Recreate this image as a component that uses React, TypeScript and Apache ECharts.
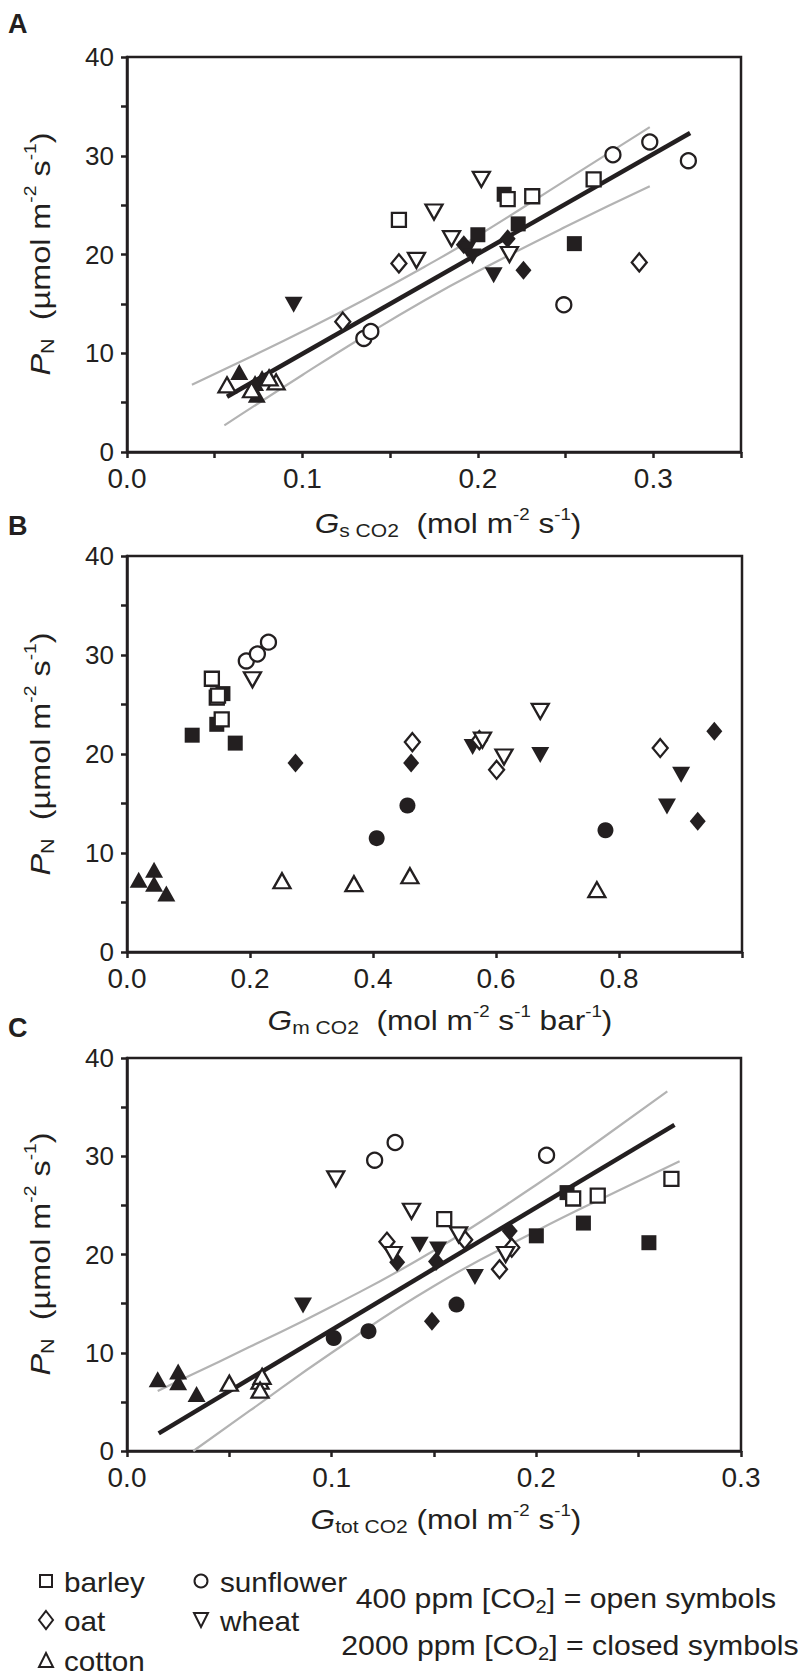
import { useEffect, useRef } from "react";
import * as echarts from "echarts";

const FONT = "'Liberation Sans', Arial, Helvetica, sans-serif";
const INK = "#231f20";
const GREY = "#b3b3b3";

// ---------- tick labels ----------
const yTickLabels = [0, 10, 20, 30, 40];
const xTickLabelsA = [0.0, 0.1, 0.2, 0.3];
const xTickLabelsB = [0.0, 0.2, 0.4, 0.6, 0.8];
const xTickLabelsC = [0.0, 0.1, 0.2, 0.3];

// ---------- Panel A : Gs CO2 ----------
const aBarley400 = [[0.155, 23.5], [0.217, 25.6], [0.231, 25.9], [0.266, 27.6]];
const aBarley2000 = [[0.215, 26.1], [0.200, 22.0], [0.223, 23.1], [0.255, 21.1]];
const aOat400 = [[0.155, 19.1], [0.123, 13.2], [0.292, 19.2]];
const aOat2000 = [[0.192, 21.0], [0.217, 21.6], [0.226, 18.4]];
const aCotton400 = [[0.057, 6.8], [0.071, 6.3], [0.085, 7.1], [0.081, 7.5]];
const aCotton2000 = [[0.064, 8.1], [0.074, 5.8], [0.077, 7.5], [0.073, 7.0]];
const aSunflower400 = [[0.277, 30.1], [0.298, 31.4], [0.320, 29.5], [0.249, 14.9], [0.135, 11.5], [0.139, 12.2]];
const aSunflower2000: number[][] = [];
const aWheat400 = [[0.202, 27.6], [0.175, 24.3], [0.185, 21.6], [0.165, 19.4], [0.218, 20.0]];
const aWheat2000 = [[0.095, 14.9], [0.209, 17.9], [0.194, 20.5], [0.197, 19.8]];
const aFit = [[0.057, 5.6], [0.321, 32.3]];
const aUpper = [[0.037, 6.8], [0.07, 9.6], [0.1, 12.2], [0.135, 15.4], [0.17, 18.8], [0.2, 21.9], [0.25, 27.5], [0.298, 32.9]];
const aLower = [[0.0555, 2.7], [0.1, 7.8], [0.135, 11.7], [0.17, 15.4], [0.2, 18.3], [0.25, 22.8], [0.298, 26.9]];

// ---------- Panel B : Gm CO2 ----------
const bBarley400 = [[0.138, 27.6], [0.146, 25.7], [0.148, 25.9], [0.154, 23.5]];
const bBarley2000 = [[0.156, 26.1], [0.106, 21.9], [0.146, 23.0], [0.176, 21.1]];
const bOat400 = [[0.464, 21.2], [0.573, 21.4], [0.601, 18.4], [0.867, 20.6]];
const bOat2000 = [[0.274, 19.1], [0.462, 19.1], [0.928, 13.2], [0.955, 22.3]];
const bCotton400 = [[0.252, 7.2], [0.369, 6.9], [0.460, 7.7], [0.764, 6.3]];
const bCotton2000 = [[0.019, 7.3], [0.044, 8.3], [0.044, 6.9], [0.064, 5.9]];
const bSunflower400 = [[0.194, 29.4], [0.212, 30.1], [0.230, 31.3]];
const bSunflower2000 = [[0.406, 11.5], [0.456, 14.8], [0.778, 12.3]];
const bWheat400 = [[0.204, 27.5], [0.672, 24.3], [0.613, 19.7], [0.578, 21.4]];
const bWheat2000 = [[0.562, 20.7], [0.672, 19.9], [0.901, 17.9], [0.878, 14.7]];

// ---------- Panel C : Gtot CO2 ----------
const cBarley400 = [[0.155, 23.6], [0.218, 25.7], [0.230, 26.0], [0.266, 27.7]];
const cBarley2000 = [[0.215, 26.3], [0.200, 21.9], [0.223, 23.2], [0.255, 21.2]];
const cOat400 = [[0.127, 21.3], [0.165, 21.5], [0.182, 18.5], [0.188, 20.7]];
const cOat2000 = [[0.149, 13.2], [0.132, 19.2], [0.151, 19.3], [0.187, 22.4]];
const cCotton400 = [[0.050, 6.9], [0.065, 7.1], [0.066, 7.6], [0.065, 6.2]];
const cCotton2000 = [[0.015, 7.3], [0.025, 8.1], [0.025, 7.0], [0.034, 5.8]];
const cSunflower400 = [[0.131, 31.4], [0.121, 29.6], [0.205, 30.1]];
const cSunflower2000 = [[0.101, 11.5], [0.118, 12.2], [0.161, 14.9]];
const cWheat400 = [[0.102, 27.7], [0.139, 24.4], [0.130, 20.0], [0.162, 22.0], [0.185, 20.0]];
const cWheat2000 = [[0.086, 14.8], [0.170, 17.7], [0.143, 21.0], [0.152, 20.5]];
const cFit = [[0.0155, 1.8], [0.2675, 33.2]];
const cUpper = [[0.015, 6.1], [0.03, 7.6], [0.06, 10.6], [0.1, 14.7], [0.15, 20.4], [0.2, 27.1], [0.23, 31.5], [0.264, 36.6]];
const cLower = [[0.0324, 0.0], [0.06, 4.1], [0.1, 10.0], [0.15, 16.8], [0.2, 22.4], [0.24, 26.5], [0.27, 29.5]];

// ---------- symbol styles ----------
const SYM: Record<string, { symbol: string; size: number[]; rotate: number }> = {
  barley: { symbol: "rect", size: [15, 15], rotate: 0 },
  oat: { symbol: "diamond", size: [16, 19], rotate: 0 },
  cotton: { symbol: "triangle", size: [18, 16], rotate: 0 },
  sunflower: { symbol: "circle", size: [16, 16], rotate: 0 },
  wheat: { symbol: "triangle", size: [18, 16], rotate: 180 },
};

const panels = [
  {
    sets: {
      barley: [aBarley400, aBarley2000], oat: [aOat400, aOat2000], cotton: [aCotton400, aCotton2000],
      sunflower: [aSunflower400, aSunflower2000], wheat: [aWheat400, aWheat2000],
    },
    fit: aFit, upper: aUpper, lower: aLower,
  },
  {
    sets: {
      barley: [bBarley400, bBarley2000], oat: [bOat400, bOat2000], cotton: [bCotton400, bCotton2000],
      sunflower: [bSunflower400, bSunflower2000], wheat: [bWheat400, bWheat2000],
    },
    fit: null, upper: null, lower: null,
  },
  {
    sets: {
      barley: [cBarley400, cBarley2000], oat: [cOat400, cOat2000], cotton: [cCotton400, cCotton2000],
      sunflower: [cSunflower400, cSunflower2000], wheat: [cWheat400, cWheat2000],
    },
    fit: cFit, upper: cUpper, lower: cLower,
  },
];

const GRIDS = [
  { left: 127, top: 57, width: 614, height: 395 },
  { left: 127, top: 556, width: 615, height: 396 },
  { left: 127, top: 1058, width: 614, height: 393 },
];

function rich(main: number) {
  return {
    n: { fontSize: main, fontFamily: FONT, fill: INK, lineHeight: 34 },
    it: { fontSize: main, fontFamily: FONT, fill: INK, fontStyle: "italic", lineHeight: 34 },
    sub: { fontSize: Math.round(main * 0.68), fontFamily: FONT, fill: INK, lineHeight: 16, verticalAlign: "bottom" },
    sup: { fontSize: Math.round(main * 0.6), fontFamily: FONT, fill: INK, lineHeight: 16, verticalAlign: "top" },
  };
}

function txt(text: string, x: number, y: number, o: any = {}) {
  const size = o.size ?? 27;
  const align = o.align ?? "center";
  return {
    type: "text",
    x,
    y,
    rotation: o.rotation ?? 0,
    scaleX: o.scaleX ?? 1,
    silent: true,
    style: {
      text,
      rich: rich(size),
      fill: INK,
      fontSize: size,
      fontFamily: FONT,
      fontWeight: o.bold ? "bold" : "normal",
      align,
      verticalAlign: "middle",
      textAlign: align,
      textVerticalAlign: "middle",
    },
  };
}

function labelFmt(list: number[], digits: number) {
  return (v: number) => (list.some((t) => Math.abs(t - v) < 1e-6) ? v.toFixed(digits) : "");
}

function buildOption() {
  const axisCommon = {
    type: "value",
    axisLine: { show: true, onZero: false, lineStyle: { color: INK, width: 2.5 } },
    axisTick: { show: true, length: 6, lineStyle: { color: INK, width: 2.5 } },
    splitLine: { show: false },
  };
  const xMax = [0.35, 1.0, 0.3];
  const xInt = [0.05, 0.2, 0.05];
  const xLabels = [xTickLabelsA, xTickLabelsB, xTickLabelsC];

  const xAxis = GRIDS.map((_, i) => ({
    ...axisCommon,
    gridIndex: i,
    min: 0,
    max: xMax[i],
    interval: xInt[i],
    axisLabel: {
      show: true, fontSize: 28, fontFamily: FONT, color: INK, margin: 14, lineHeight: 24,
      showMinLabel: true, showMaxLabel: true,
      formatter: labelFmt(xLabels[i], 1),
    },
  }));
  const yAxis = GRIDS.map((_, i) => ({
    ...axisCommon,
    gridIndex: i,
    min: 0,
    max: 40,
    interval: 5,
    axisLabel: {
      show: true, fontSize: 26, fontFamily: FONT, color: INK, margin: 13, lineHeight: 20,
      showMinLabel: true, showMaxLabel: true,
      formatter: labelFmt(yTickLabels, 0),
    },
  }));

  const series: any[] = [];
  panels.forEach((p, gi) => {
    const lineSeries = (data: number[][], color: string, width: number, smooth: boolean) => ({
      type: "line", xAxisIndex: gi, yAxisIndex: gi, data, symbol: "none", smooth,
      lineStyle: { color, width }, z: 2, silent: true, animation: false,
    });
    if (p.upper) series.push(lineSeries(p.upper, GREY, 2.2, true));
    if (p.lower) series.push(lineSeries(p.lower, GREY, 2.2, true));
    if (p.fit) series.push(lineSeries(p.fit, INK, 4.5, false));
    Object.keys(p.sets).forEach((k) => {
      const s = SYM[k];
      const [open, closed] = (p.sets as any)[k];
      series.push({
        type: "scatter", xAxisIndex: gi, yAxisIndex: gi, data: closed,
        symbol: s.symbol, symbolSize: s.size, symbolRotate: s.rotate,
        itemStyle: { color: INK, borderWidth: 0, opacity: 1 }, z: 3, silent: true,
      });
      series.push({
        type: "scatter", xAxisIndex: gi, yAxisIndex: gi, data: open,
        symbol: s.symbol, symbolSize: [s.size[0] - 1, s.size[1] - 1], symbolRotate: s.rotate,
        itemStyle: { color: "#ffffff", borderColor: INK, borderWidth: 2.3, opacity: 1 }, z: 4, silent: true,
      });
    });
  });

  const legendShape = { fill: "#ffffff", stroke: INK, lineWidth: 2 };
  const yTitle = "{it|P}{sub|N}{n|  (µmol m}{sup|-2}{n| s}{sup|-1}{n|)}";
  const graphic: any[] = [
    // panel letters
    txt("A", 8, 24, { size: 27, bold: true, align: "left" }),
    txt("B", 8, 526, { size: 27, bold: true, align: "left" }),
    txt("C", 8, 1028, { size: 27, bold: true, align: "left" }),
    // y titles
    txt(yTitle, 40, 254, { rotation: Math.PI / 2, scaleX: 1.2, size: 27 }),
    txt(yTitle, 40, 754, { rotation: Math.PI / 2, scaleX: 1.2, size: 27 }),
    txt(yTitle, 40, 1254, { rotation: Math.PI / 2, scaleX: 1.2, size: 27 }),
    // x titles
    txt("{it|G}{sub|s CO2}{n|  (mol m}{sup|-2}{n| s}{sup|-1}{n|)}", 448, 523, { scaleX: 1.17 }),
    txt("{it|G}{sub|m CO2}{n|  (mol m}{sup|-2}{n| s}{sup|-1}{n| bar}{sup|-1}{n|)}", 440, 1020, { scaleX: 1.17 }),
    txt("{it|G}{sub|tot CO2}{n| (mol m}{sup|-2}{n| s}{sup|-1}{n|)}", 446, 1519, { scaleX: 1.17 }),
    // legend symbols
    { type: "rect", silent: true, shape: { x: 40, y: 1575, width: 12, height: 12 }, style: legendShape },
    { type: "circle", silent: true, shape: { cx: 201, cy: 1581, r: 6.5 }, style: legendShape },
    { type: "polygon", silent: true, shape: { points: [[46, 1611], [53, 1620], [46, 1629], [39, 1620]] }, style: legendShape },
    { type: "polygon", silent: true, shape: { points: [[194, 1613], [208, 1613], [201, 1627]] }, style: legendShape },
    { type: "polygon", silent: true, shape: { points: [[39, 1667], [53, 1667], [46, 1653]] }, style: legendShape },
    // legend texts
    txt("{n|barley}", 64, 1582, { align: "left", scaleX: 1.1 }),
    txt("{n|sunflower}", 220, 1582, { align: "left", scaleX: 1.1 }),
    txt("{n|oat}", 64, 1621, { align: "left", scaleX: 1.1 }),
    txt("{n|wheat}", 220, 1621, { align: "left", scaleX: 1.1 }),
    txt("{n|cotton}", 64, 1661, { align: "left", scaleX: 1.1 }),
    txt("{n|400 ppm [CO}{sub|2}{n|] = open symbols}", 566, 1599, { scaleX: 1.12 }),
    txt("{n|2000 ppm [CO}{sub|2}{n|] = closed symbols}", 570, 1646, { scaleX: 1.12 }),
  ];

  return {
    animation: false,
    backgroundColor: "#ffffff",
    textStyle: { fontFamily: FONT },
    grid: GRIDS.map((g) => ({
      ...g, show: true, borderColor: INK, borderWidth: 2.5, backgroundColor: "transparent",
      containLabel: false, outerBoundsMode: "none",
    })),
    xAxis,
    yAxis,
    series,
    graphic,
  };
}

export default function App() {
  const ref = useRef<HTMLDivElement>(null);
  useEffect(() => {
    if (!ref.current) return;
    const chart = echarts.init(ref.current, null, { renderer: "svg" });
    chart.setOption(buildOption() as any);
    return () => chart.dispose();
  }, []);
  return (
    <div
      ref={ref}
      style={{ position: "absolute", left: 0, top: 0, width: 800, height: 1679, background: "#fff" }}
    />
  );
}
